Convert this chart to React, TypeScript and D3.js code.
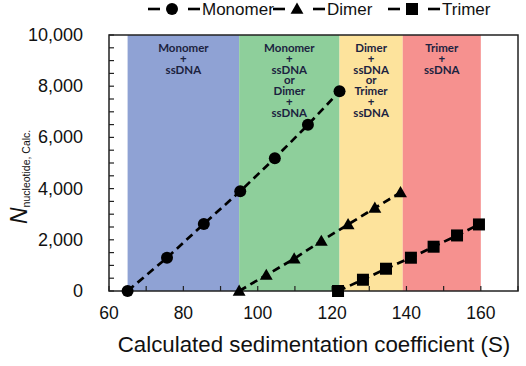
import React from 'react';
import * as d3 from 'd3';

// series
const monomerS = [65, 75.6, 85.5, 95.3, 104.6, 113.5, 122];
const monomerN = [0, 1300, 2620, 3900, 5190, 6490, 7800];
const dimerS = [95, 102.3, 109.8, 117.1, 124.3, 131.5, 138.4];
const dimerN = [0, 620, 1260, 1950, 2600, 3240, 3850];
const trimerS = [121.6, 128.3, 134.5, 141.2, 147.3, 153.6, 159.5];
const trimerN = [0, 440, 870, 1300, 1730, 2170, 2600];

// shaded regions
const bandStart = [65, 95, 122, 139];
const bandEnd = [95, 122, 139, 160];
const bandColors = ['#8fa2d4', '#8ecf9b', '#fde39c', '#f6918f'];
const bandLabels = [
  ['Monomer', '+', 'ssDNA'],
  ['Monomer', '+', 'ssDNA', 'or', 'Dimer', '+', 'ssDNA'],
  ['Dimer', '+', 'ssDNA', 'or', 'Trimer', '+', 'ssDNA'],
  ['Trimer', '+', 'ssDNA'],
];

const xTicks = [60, 80, 100, 120, 140, 160];
const yTicks = [0, 2000, 4000, 6000, 8000, 10000];
const seriesNames = ['Monomer', 'Dimer', 'Trimer'];

const W = 526;
const H = 366;
const m = { left: 109, right: 8, top: 35, bottom: 75 };

export default function App() {
  const x = d3.scaleLinear().domain([60, 170]).range([m.left, W - m.right]);
  const y = d3.scaleLinear().domain([0, 10000]).range([H - m.bottom, m.top]);

  const line = d3.line<[number, number]>().x(d => x(d[0])).y(d => y(d[1]));
  const series = [
    { name: 'Monomer', pts: monomerS.map((s, i) => [s, monomerN[i]] as [number, number]) },
    { name: 'Dimer', pts: dimerS.map((s, i) => [s, dimerN[i]] as [number, number]) },
    { name: 'Trimer', pts: trimerS.map((s, i) => [s, trimerN[i]] as [number, number]) },
  ];

  const marker = (name: string, cx: number, cy: number, key?: any) => {
    if (name === 'Monomer') return <circle key={key} cx={cx} cy={cy} r={6} fill="#000" />;
    if (name === 'Dimer') {
      const p = d3.symbol().type(d3.symbolTriangle).size(72)();
      return <path key={key} d={p || ''} transform={`translate(${cx},${cy + 1})`} fill="#000" />;
    }
    return <rect key={key} x={cx - 6} y={cy - 6} width={12} height={12} fill="#000" />;
  };

  const font = "'Liberation Sans', Arial, sans-serif";
  const xMinor = d3.range(60, 171, 10);
  const yMinor = d3.range(0, 10001, 500);

  // legend layout
  const legendX = [148, 273, 388];

  return (
    <svg width={W} height={H} style={{ position: 'absolute', left: 0, top: 0, background: '#fff' }}>
      {bandStart.map((b, i) => (
        <rect key={i} x={x(b)} y={y(10000)} width={x(bandEnd[i]) - x(b)} height={y(0) - y(10000)} fill={bandColors[i]} />
      ))}
      {bandLabels.map((lines, i) => (
        <text key={i} textAnchor="middle" fontFamily="Lato, sans-serif" fontWeight="bold" fontSize={11.5} fill="#1c2340">
          {lines.map((t, j) => (
            <tspan key={j} x={(x(bandStart[i]) + x(bandEnd[i])) / 2} y={52 + j * 10.8}>{t}</tspan>
          ))}
        </text>
      ))}
      {/* frame */}
      <rect x={m.left} y={m.top} width={W - m.right - m.left} height={H - m.bottom - m.top} fill="none" stroke="#222" strokeWidth={1.5} />
      {xMinor.map(v => (
        <line key={v} x1={x(v)} x2={x(v)} y1={y(0)} y2={y(0) - 5} stroke="#222" strokeWidth={1.2} />
      ))}
      {yMinor.map(v => (
        <line key={v} x1={m.left} x2={m.left + 5} y1={y(v)} y2={y(v)} stroke="#222" strokeWidth={1.2} />
      ))}
      {xTicks.map(v => (
        <text key={v} x={x(v)} y={y(0) + 28} textAnchor="middle" fontFamily={font} fontSize={17.5} fill="#111">{v}</text>
      ))}
      {yTicks.map(v => (
        <text key={v} x={83} y={y(v) + 6} textAnchor="end" fontFamily={font} fontSize={18} fill="#111">{d3.format(',')(v)}</text>
      ))}
      {/* series */}
      {series.map(s => (
        <g key={s.name}>
          <path d={line(s.pts) || ''} fill="none" stroke="#000" strokeWidth={2.7} strokeDasharray="8,5" />
          {s.pts.map((p, i) => marker(s.name, x(p[0]), y(p[1]), i))}
        </g>
      ))}
      {/* axis titles */}
      <text x={314} y={352} textAnchor="middle" fontFamily={font} fontSize={22.3} fill="#111">Calculated sedimentation coefficient (S)</text>
      <text transform="translate(27,224) rotate(-90)" fontFamily={font} fill="#111">
        <tspan fontSize={23} fontStyle="italic">N</tspan>
        <tspan fontSize={10.5} dy={3}>nucleotide, Calc.</tspan>
      </text>
      {/* legend */}
      {seriesNames.map((n, i) => (
        <g key={n}>
          <line x1={legendX[i]} x2={legendX[i] + 12} y1={9} y2={9} stroke="#000" strokeWidth={2.6} />
          {marker(n, legendX[i] + 24, 9)}
          <line x1={legendX[i] + 40} x2={legendX[i] + 52} y1={9} y2={9} stroke="#000" strokeWidth={2.6} />
          <text x={legendX[i] + 54} y={15} fontFamily={font} fontSize={17} fill="#111">{n}</text>
        </g>
      ))}
    </svg>
  );
}
